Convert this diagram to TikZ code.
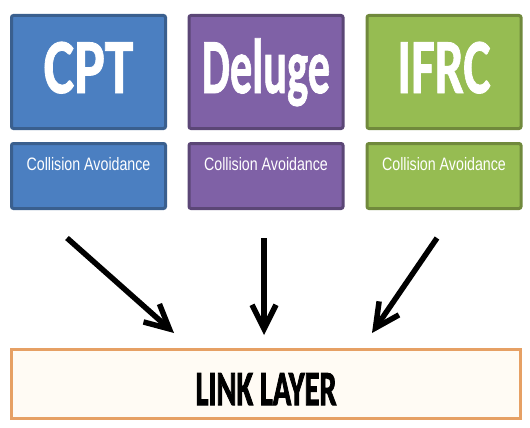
\documentclass[tikz,border=0pt]{standalone}
\usepackage{fontspec}
\setmainfont{Carlito}
\newfontfamily\smallsans{Liberation Sans}
\newfontfamily\titlefont[FakeBold=1.2]{Carlito}
\newfontfamily\heavyfont[FakeBold=2.5]{Carlito}
\usetikzlibrary{arrows.meta}

\definecolor{bluefill}{HTML}{4B7FC1}
\definecolor{blueedge}{HTML}{3A5F8E}
\definecolor{purplefill}{HTML}{7F61A6}
\definecolor{purpleedge}{HTML}{5B4676}
\definecolor{greenfill}{HTML}{96BC52}
\definecolor{greenedge}{HTML}{70893C}
\definecolor{layeredge}{HTML}{E6A064}
\definecolor{layerfill}{HTML}{FFFBF4}

\tikzset{
  panel/.style={rounded corners=2pt, line width=3pt, inner sep=0pt,
                minimum width=154pt, text=white},
  titlebox/.style={panel, minimum height=113pt,
                   font=\titlefont\bfseries\fontsize{78}{78}\selectfont,
                   text height=42pt, text depth=0pt},
  tagbox/.style={panel, minimum height=65pt,
                 font=\smallsans\fontsize{18}{18}\selectfont,
                 text height=13pt, text depth=25pt},
  layerbox/.style={line width=3pt, draw=layeredge, fill=layerfill, inner sep=0pt,
                   minimum width=509pt, minimum height=69pt,
                   font=\heavyfont\bfseries\fontsize{49}{49}\selectfont,
                   text height=42pt, text depth=0pt},
  flow/.style={line width=5.5pt, -{Straight Barb[length=24pt, width=24pt]}}
}

\begin{document}
\begin{tikzpicture}[x=1pt, y=-1pt]
  \useasboundingbox (0,0) rectangle (530,428);

  % protocol title boxes
  \node[titlebox, fill=bluefill, draw=blueedge] (cpt) at (88.5,72) {\scalebox{0.74}[1]{CPT}};
  \node[titlebox, fill=purplefill, draw=purpleedge] (deluge) at (266,72) {\scalebox{0.57}[1]{Deluge}};
  \node[titlebox, fill=greenfill, draw=greenedge] (ifrc) at (444,72) {\scalebox{0.66}[1]{IFRC}};

  % collision avoidance boxes
  \node[tagbox, fill=bluefill, draw=blueedge] (cptca) at (88.5,176) {\scalebox{0.79}[1]{Collision Avoidance}};
  \node[tagbox, fill=purplefill, draw=purpleedge] (delugeca) at (266,176) {\scalebox{0.79}[1]{Collision Avoidance}};
  \node[tagbox, fill=greenfill, draw=greenedge] (ifrcca) at (444,176) {\scalebox{0.79}[1]{Collision Avoidance}};

  % link layer
  \node[layerbox] (link) at (266,384) {\scalebox{0.62}[1]{LINK LAYER}};

  % arrows into the link layer
  \coordinate (a1) at (67,238);
  \coordinate (b1) at (174,333);
  \coordinate (a2) at (264,238);
  \coordinate (b2) at (264,335);
  \coordinate (a3) at (437,238);
  \coordinate (b3) at (372,333);
  \draw[flow] (a1) -- (b1);
  \draw[flow] (a2) -- (b2);
  \draw[flow] (a3) -- (b3);
\end{tikzpicture}
\end{document}
